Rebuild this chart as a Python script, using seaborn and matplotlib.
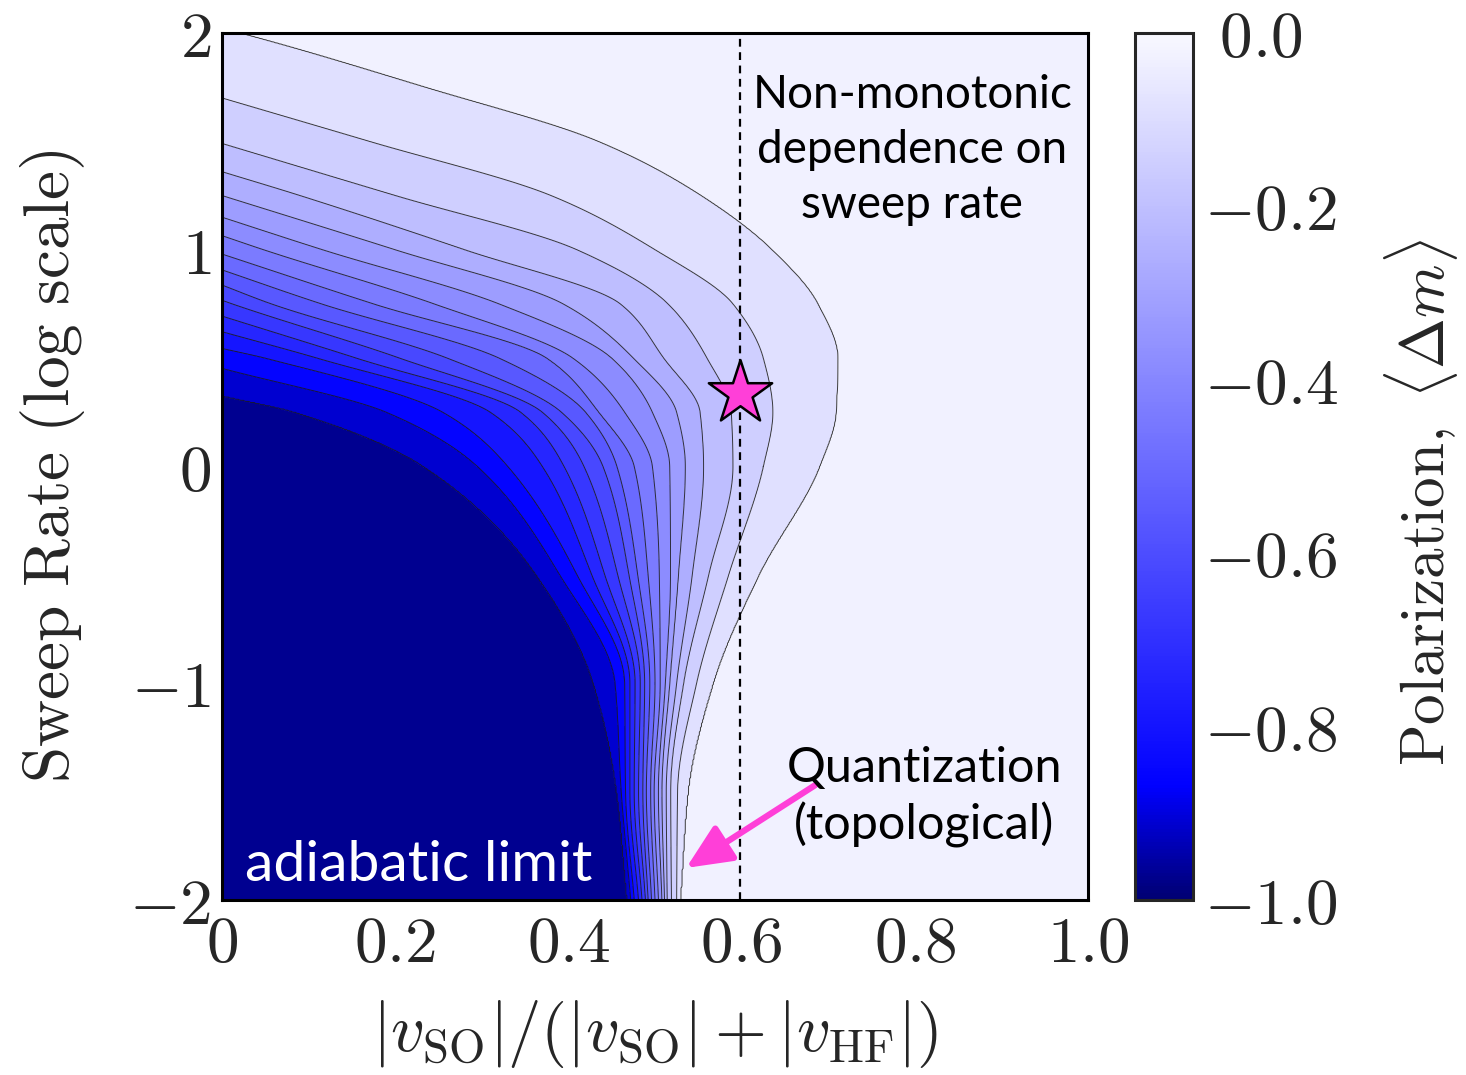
import numpy as np
import matplotlib
matplotlib.use("Agg")
import matplotlib.pyplot as plt
import seaborn as sns
from matplotlib.colors import LinearSegmentedColormap, Normalize
from matplotlib.cm import ScalarMappable

# ---------------------------------------------------------------------------
# Data: contour crossings of the polarization map.
# Each row lists, for one sweep rate (log10), the x positions where the
# contour lines cross it, ordered from the outermost (lightest) contour inward.
# ---------------------------------------------------------------------------
row_y = [-2.0, -1.5, -1.0, -0.5, 0.0, 0.25, 0.5, 0.75, 1.0, 1.25, 1.5, 1.75, 2.0]
row_crossings = [
    [0.529, 0.525, 0.519, 0.514, 0.511, 0.508, 0.504, 0.500, 0.496, 0.492, 0.489, 0.485, 0.481, 0.476, 0.472, 0.468],
    [0.538, 0.526, 0.518, 0.513, 0.508, 0.504, 0.499, 0.495, 0.490, 0.486, 0.481, 0.476, 0.471, 0.466, 0.461, 0.456],
    [0.567, 0.548, 0.533, 0.525, 0.517, 0.512, 0.506, 0.500, 0.494, 0.488, 0.483, 0.477, 0.471, 0.465, 0.454, 0.429],
    [0.620, 0.585, 0.562, 0.543, 0.527, 0.518, 0.505, 0.492, 0.480, 0.470, 0.457, 0.442, 0.427, 0.410, 0.390, 0.363],
    [0.690, 0.625, 0.590, 0.556, 0.535, 0.517, 0.497, 0.476, 0.456, 0.440, 0.418, 0.395, 0.370, 0.330, 0.295, 0.233],
    [0.709, 0.636, 0.588, 0.552, 0.525, 0.497, 0.465, 0.435, 0.420, 0.392, 0.370, 0.345, 0.310, 0.255, 0.190, 0.085],
    [0.711, 0.625, 0.560, 0.510, 0.475, 0.450, 0.405, 0.375, 0.320, 0.260, 0.205, 0.155, 0.110, 0.050],
    [0.688, 0.590, 0.515, 0.460, 0.394, 0.320, 0.245, 0.175, 0.115, 0.057, 0.012],
    [0.635, 0.500, 0.410, 0.280, 0.200, 0.116, 0.048],
    [0.553, 0.380, 0.200, 0.090],
    [0.434, 0.170],
    [0.234],
    [0.020],
]
# sweep rate at which each contour meets the left edge (outermost first)
left_edge_y = [2.02, 1.70, 1.49, 1.36, 1.25, 1.15, 1.065, 0.98, 0.907,
               0.837, 0.767, 0.694, 0.622, 0.545, 0.453, 0.327]

# highlighted point and annotation targets
star_x, star_y = [0.598], [0.339]
arrow_tail = (0.685, -1.47)
arrow_head = (0.536, -1.852)
ref_x = 0.598

n_bands = 17
levels = np.linspace(-1.0, 0.0, n_bands + 1)
contour_values = [-(k + 1) / n_bands for k in range(len(left_edge_y))]  # outermost first


# ---------------------------------------------------------------------------
# Build the gridded field from the contour crossings
# ---------------------------------------------------------------------------
def pchip(xk, yk, x):
    """Shape-preserving piecewise cubic Hermite interpolation."""
    xk = np.asarray(xk, float)
    yk = np.asarray(yk, float)
    n = xk.size
    if n < 2:
        return np.full_like(np.asarray(x, float), yk[0])
    h = np.diff(xk)
    d = np.diff(yk) / h
    m = np.zeros(n)
    m[0], m[-1] = d[0], d[-1]
    for i in range(1, n - 1):
        if d[i - 1] * d[i] <= 0:
            m[i] = 0.0
        else:
            w1 = 2 * h[i] + h[i - 1]
            w2 = h[i] + 2 * h[i - 1]
            m[i] = (w1 + w2) / (w1 / d[i - 1] + w2 / d[i])
    x = np.clip(np.asarray(x, float), xk[0], xk[-1])
    idx = np.clip(np.searchsorted(xk, x) - 1, 0, n - 2)
    t = (x - xk[idx]) / h[idx]
    h00 = 2 * t**3 - 3 * t**2 + 1
    h10 = t**3 - 2 * t**2 + t
    h01 = -2 * t**3 + 3 * t**2
    h11 = t**3 - t**2
    return h00 * yk[idx] + h10 * h[idx] * m[idx] + h01 * yk[idx + 1] + h11 * h[idx] * m[idx + 1]


xg = np.linspace(0, 1, 801)
yg = np.linspace(-2, 2, 801)

level_curves = []
for k in range(len(left_edge_y)):
    ys, xs = [], []
    for ry, cr in zip(row_y, row_crossings):
        if k < len(cr):
            ys.append(ry)
            xs.append(cr[k])
    ys.append(left_edge_y[k])
    xs.append(0.0)
    order = np.argsort(ys)
    level_curves.append(pchip(np.array(ys)[order], np.array(xs)[order], yg))

edge_y = [-2.0] + left_edge_y[::-1] + [2.5]
edge_v = [-0.995] + contour_values[::-1] + [-0.02]

Z = np.zeros((yg.size, xg.size))
for i, y in enumerate(yg):
    xp = [0.0]
    fp = [np.interp(y, edge_y, edge_v)]
    for k in range(len(left_edge_y) - 1, -1, -1):
        if y < left_edge_y[k]:
            xv = max(level_curves[k][i], xp[-1] + 1e-5)
            xp.append(xv)
            fp.append(contour_values[k])
    xp.append(1.0)
    fp.append(-0.01)
    Z[i] = np.interp(xg, xp, fp)

X, Y = np.meshgrid(xg, yg)

# ---------------------------------------------------------------------------
# Styling
# ---------------------------------------------------------------------------
sns.set_style("white")
plt.rcParams["mathtext.fontset"] = "cm"
plt.rcParams["font.family"] = ["Lato", "DejaVu Sans"]

cmap = LinearSegmentedColormap.from_list(
    "polar_blue",
    [(0.0, (0.0, 0.0, 0.45)), (0.13, (0.0, 0.0, 1.0)), (1.0, (0.975, 0.975, 1.0))],
)
norm = Normalize(vmin=-1.0, vmax=0.0)

fig = plt.figure(figsize=(14.66, 10.75), dpi=100)
ax = fig.add_axes([222 / 1466, 175 / 1075, 866 / 1466, 867 / 1075])
cax = fig.add_axes([1135 / 1466, 175 / 1075, 58 / 1466, 867 / 1075])

ax.contourf(X, Y, Z, levels=levels, cmap=cmap, norm=norm)
ax.contour(X, Y, Z, levels=levels[1:-1], colors="#1a1a1a", linewidths=0.7,
           linestyles="solid", alpha=0.85)

ax.axvline(ref_x, color="black", linestyle=(0, (3.5, 2.5)), linewidth=1.6)

sns.scatterplot(x=star_x, y=star_y, marker="*", s=2300, color="#ff3fd8",
                edgecolor="black", linewidth=1.8, ax=ax, zorder=5)

ax.annotate("", xy=arrow_head, xytext=arrow_tail,
            arrowprops=dict(arrowstyle="-|>,head_length=1.1,head_width=0.5",
                            mutation_scale=25, color="#ff3fd8", lw=4.5,
                            shrinkA=0, shrinkB=0))

ax.text(0.797, 1.46, "Non-monotonic\ndependence on\nsweep rate", ha="center", va="center",
        fontsize=33, linespacing=1.38, color="black")
ax.text(0.811, -1.525, "Quantization\n(topological)", ha="center", va="center",
        fontsize=35, linespacing=1.33, color="black")
ax.text(0.027, -1.84, "adiabatic limit", ha="left", va="center",
        fontsize=41, color="white")

ax.set_xlim(0, 1)
ax.set_ylim(-2, 2)

xt = np.round(np.arange(0, 1.01, 0.1), 1)
ax.set_xticks(xt)
ax.set_xticklabels([("$%g$" % v if v == 0 else "$%.1f$" % v) if round(v * 10) % 2 == 0 else "" for v in xt])
yt = np.arange(-2, 2.01, 0.5)
ax.set_yticks(yt)
ax.set_yticklabels(["$%d$" % v if float(v).is_integer() else "" for v in yt])

ax.tick_params(axis="x", direction="in", length=7, width=1.2, top=True, bottom=True,
               labelsize=47, pad=10, color="black")
ax.tick_params(axis="y", direction="in", length=16, width=1.4, left=True, right=True,
               labelsize=47, pad=8, color="black")
for sp in ax.spines.values():
    sp.set_linewidth(2.2)
    sp.set_color("black")

ax.set_xlabel(r"$|v_{\mathrm{SO}}|/(|v_{\mathrm{SO}}|+|v_{\mathrm{HF}}|)$", fontsize=48, labelpad=18)
ax.set_ylabel(r"$\mathrm{Sweep\ Rate\ (log\ scale)}$", fontsize=47, labelpad=30)

cb = fig.colorbar(ScalarMappable(norm=norm, cmap=cmap), cax=cax)
ct = np.round(np.arange(-1.0, 0.01, 0.1), 1)
cb.set_ticks(ct)
cb_labels = []
for v in ct:
    if round(v * 10) % 2 != 0:
        cb_labels.append("")
    elif abs(v) < 1e-9:
        cb_labels.append(r"$\;0.0$")
    else:
        cb_labels.append("$%.1f$" % v)
cb.set_ticklabels(cb_labels)
cax.tick_params(direction="in", length=7, width=1.2, left=True, right=True,
                labelsize=47, pad=8)
cb.outline.set_linewidth(2.2)
cb.set_label(r"$\mathrm{Polarization,}\ \langle\Delta m\rangle$", fontsize=44)
cax.yaxis.set_label_coords(4.25, 0.459)

fig.savefig("out.png", dpi=100)
